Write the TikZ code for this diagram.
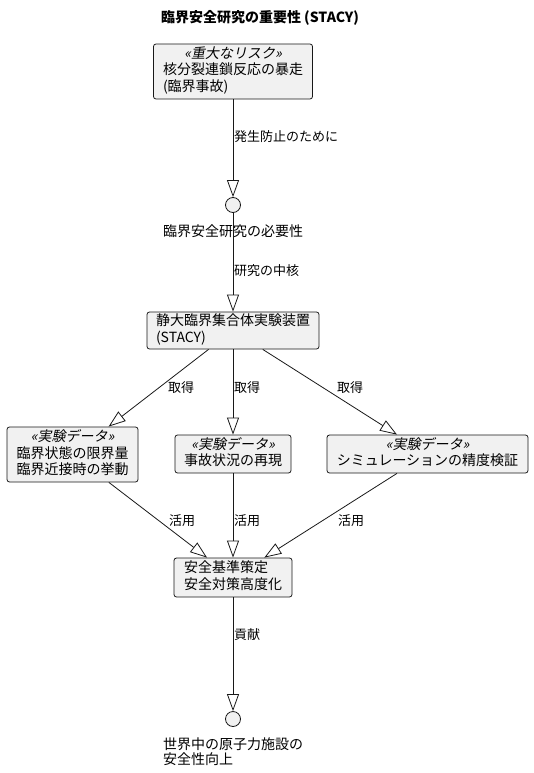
\documentclass[tikz,border=0pt]{standalone}
\usepackage{fontspec}
\setmainfont{Noto Sans CJK JP}
\newfontfamily\stereofont[FakeSlant=0.2]{Noto Sans CJK JP}
\usetikzlibrary{arrows.meta}
\definecolor{boxfill}{HTML}{F1F1F1}
\definecolor{boxline}{HTML}{181818}
\newcommand{\stereo}[1]{{\stereofont «#1»}}
\tikzset{
  box/.style={draw=boxline, fill=boxfill, rounded corners=2.5pt, line width=0.8pt,
    inner sep=0pt, font=\fontsize{14}{16.5}\selectfont},
  iface/.style={circle, draw=boxline, fill=boxfill, minimum size=15pt, inner sep=0pt, line width=0.8pt},
  edge/.style={draw=boxline, line width=0.8pt, -{Triangle[open, length=17pt, width=12pt]}},
  lbl/.style={anchor=west, inner sep=0pt, font=\fontsize{13}{15}\selectfont},
}
\begin{document}
\begin{tikzpicture}[x=1pt, y=-1pt]
    \useasboundingbox (0,0) rectangle (533,773);

    % Title
    \node[font=\fontsize{14}{16}\selectfont\bfseries] (title) at (260,18) {臨界安全研究の重要性 (STACY)};

    % Boxes
    \node[box, minimum width=159pt, minimum height=55pt] (risk) at (233,71.5)
        {\begin{tabular}{@{}l@{}}\multicolumn{1}{@{}c@{}}{\stereo{重大なリスク}}\\核分裂連鎖反応の暴走\\(臨界事故)\end{tabular}};
    \node[box, minimum width=172pt, minimum height=37pt] (stacy) at (233,330.5)
        {\begin{tabular}{@{}l@{}}静大臨界集合体実験装置\\(STACY)\end{tabular}};
    \node[box, minimum width=131pt, minimum height=55pt] (limit) at (72.5,454.5)
        {\begin{tabular}{@{}l@{}}\multicolumn{1}{@{}c@{}}{\stereo{実験データ}}\\臨界状態の限界量\\臨界近接時の挙動\end{tabular}};
    \node[box, minimum width=116pt, minimum height=38pt] (accident) at (233,454)
        {\begin{tabular}{@{}c@{}}\stereo{実験データ}\\事故状況の再現\end{tabular}};
    \node[box, minimum width=201pt, minimum height=38pt] (simul) at (427.5,454)
        {\begin{tabular}{@{}c@{}}\stereo{実験データ}\\シミュレーションの精度検証\end{tabular}};
    \node[box, minimum width=118pt, minimum height=39pt] (policy) at (233,577.5)
        {\begin{tabular}{@{}l@{}}安全基準策定\\安全対策高度化\end{tabular}};

    % Interfaces
    \node[iface] (need) at (233,205) {};
    \node[iface] (goal) at (233,719) {};
    \node[font=\fontsize{14}{16.5}\selectfont] (needtext) at (233,231) {臨界安全研究の必要性};
    \node[font=\fontsize{14}{15}\selectfont, align=left] (goaltext) at (233,752) {世界中の原子力施設の\\安全性向上};

    % Connectors
    \draw[edge] (risk) -- (need);
    \draw[edge] (need) -- (stacy);
    \draw[edge] (stacy) -- (limit);
    \draw[edge] (stacy) -- (accident);
    \draw[edge] (stacy) -- (simul);
    \draw[edge] (limit) -- (policy);
    \draw[edge] (accident) -- (policy);
    \draw[edge] (simul) -- (policy);
    \draw[edge] (policy) -- (goal);

    % Connector labels
    \node[lbl] (l-prevent) at (234,137) {発生防止のために};
    \node[lbl] (l-core) at (234,271) {研究の中核};
    \node[lbl] (l-get1) at (168,388) {取得};
    \node[lbl] (l-get2) at (234,388) {取得};
    \node[lbl] (l-get3) at (337,388) {取得};
    \node[lbl] (l-use1) at (169,521) {活用};
    \node[lbl] (l-use2) at (234,521) {活用};
    \node[lbl] (l-use3) at (338,521) {活用};
    \node[lbl] (l-contrib) at (234,635) {貢献};
\end{tikzpicture}
\end{document}
